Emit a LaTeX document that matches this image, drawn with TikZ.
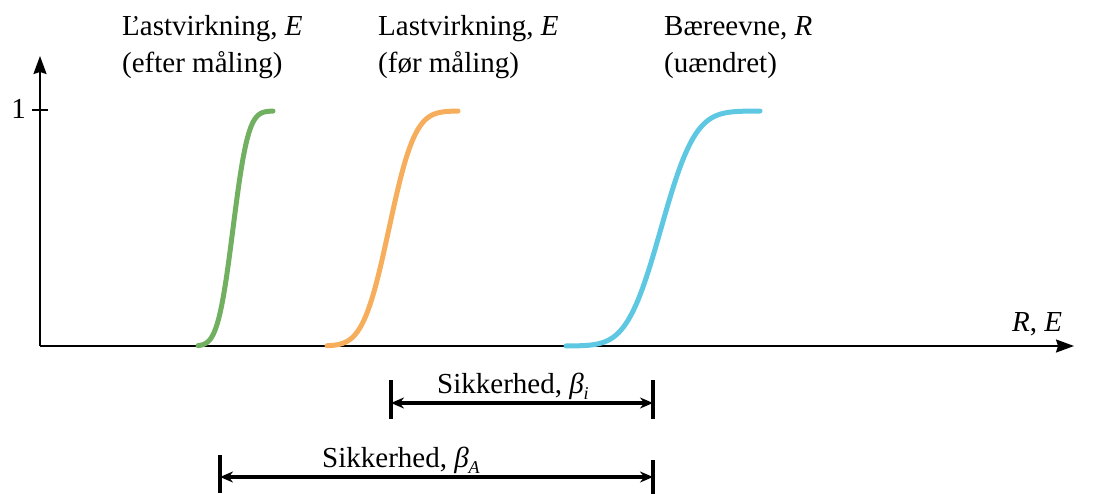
\documentclass[tikz,border=0pt]{standalone}
\usepackage{fontspec}
\setmainfont{Liberation Serif}
\usetikzlibrary{arrows.meta}
\definecolor{cgreen}{RGB}{112,176,96}
\definecolor{corange}{RGB}{246,174,92}
\definecolor{cblue}{RGB}{94,200,226}
\begin{document}
\begin{tikzpicture}[x=1pt,y=-1pt,
  declare function={Phi(\z)=0.5*(1+tanh(0.7978845*(\z+0.044715*\z*\z*\z)));},
  lbl/.style={font=\fontsize{29}{37}\selectfont, align=left, inner sep=0pt, anchor=base west},
  axis/.style={line width=1.8pt, -{Stealth[length=18pt,width=13pt,inset=2pt]}},
  curve/.style={line width=5pt, line cap=round},
  dim/.style={line width=3.2pt, {Stealth[length=13pt,width=11pt]}-{Stealth[length=13pt,width=11pt]}},
  bar/.style={line width=3.4pt}]
\useasboundingbox (0,0) rectangle (1094,494);
% axes
\coordinate (O) at (40,346);
\coordinate (ytip) at (40,56);
\coordinate (xtip) at (1074,346);
\draw[axis] (O) -- (ytip);
\draw[axis] (O) -- (xtip);
\coordinate (t1) at (32,110);
\coordinate (t2) at (48,110);
\draw[line width=1.8pt] (t1) -- (t2);
\node[lbl, anchor=base east] (one) at (26,119) {1};
\node[lbl] (RE) at (1012,331) {\itshape R\upshape, \itshape E};
% curves (normal CDFs)
\draw[curve, cgreen] plot[domain=198:273, samples=120, variable=\x]
  ({\x},{346-235*Phi((\x-233)/12)});
\draw[curve, corange] plot[domain=327:458, samples=150, variable=\x]
  ({\x},{346-235*Phi((\x-389)/20.4)});
\draw[curve, cblue] plot[domain=566:760, samples=180, variable=\x]
  ({\x},{346-235*Phi((\x-661)/26.8)});
% labels
\node[lbl] (lE1) at (122,73) {Ľastvirkning, \textit{E}\\(efter måling)};
\node[lbl] (lE2) at (378,73) {Lastvirkning, \textit{E}\\(før måling)};
\node[lbl] (lR) at (664,73) {Bæreevne, \textit{R}\\(uændret)};
% safety dimensions
\coordinate (bi1) at (391,403);
\coordinate (bi2) at (653,403);
\coordinate (bA1) at (220,477);
\coordinate (bA2) at (653,477);
\draw[bar] (391,380) -- (391,419);
\draw[bar] (653,380) -- (653,419);
\draw[bar] (220,455) -- (220,493);
\draw[bar] (653,460) -- (653,494);
\draw[dim] (bi1) -- (bi2);
\draw[dim] (bA1) -- (bA2);
\node[lbl] (si) at (437,393) {Sikkerhed, {\itshape β}\raisebox{-6pt}{\fontsize{18}{20}\selectfont\itshape i}};
\node[lbl] (sA) at (322,467) {Sikkerhed, {\itshape β}\raisebox{-6pt}{\fontsize{18}{20}\selectfont\itshape A}};
\end{tikzpicture}
\end{document}
